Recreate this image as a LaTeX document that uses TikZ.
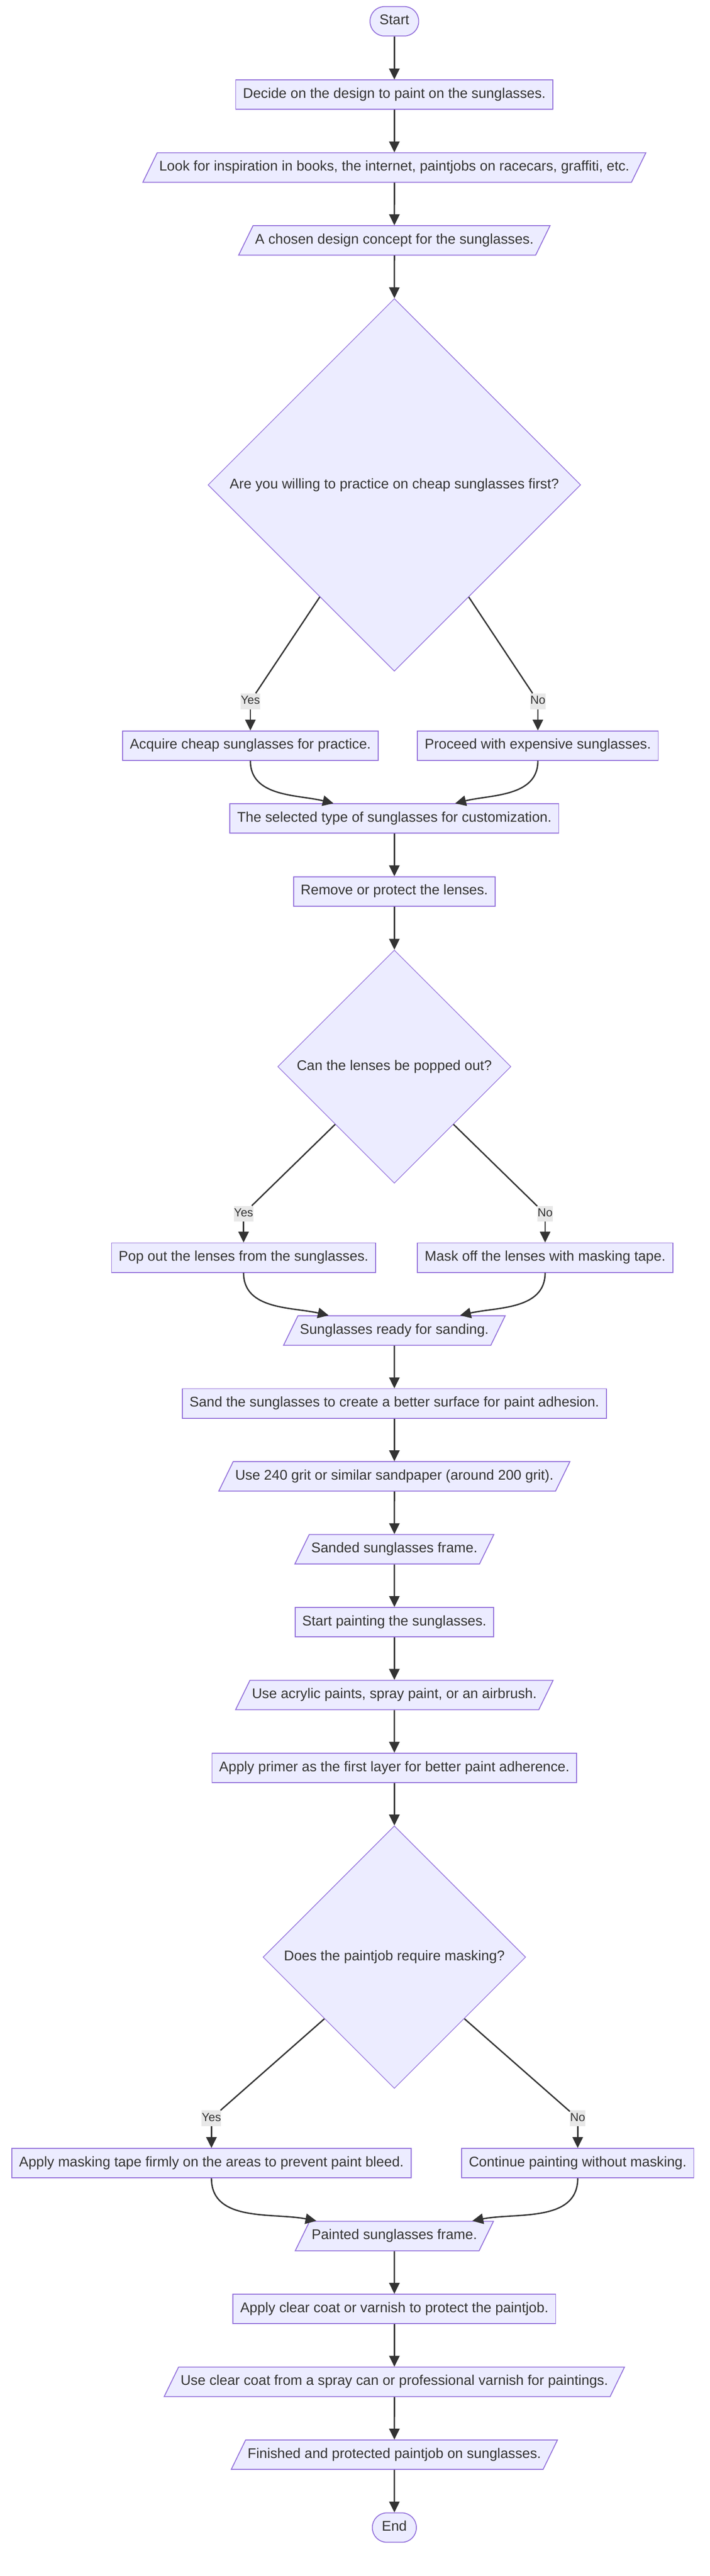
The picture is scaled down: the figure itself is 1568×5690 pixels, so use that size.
\documentclass[tikz,border=0pt]{standalone}
\usepackage{fontspec}
\setmainfont{Liberation Sans}
\usepackage{tikz}
\usetikzlibrary{positioning,shapes.geometric,arrows.meta}
\definecolor{nodefill}{HTML}{ECECFF}
\definecolor{nodeline}{HTML}{9370DB}
\definecolor{ink}{HTML}{333333}
\definecolor{lblfill}{HTML}{E8E8E8}

\begin{document}
\begin{tikzpicture}[x=1pt,y=1pt,node distance=161pt,on grid,
    >={Triangle[length=24pt,width=23pt]},
    every node/.style={font=\fontsize{31}{37}\selectfont,text=ink},
    every edge/.style={draw=ink,line width=3pt},
    box/.style={rectangle,draw=nodeline,fill=nodefill,line width=2pt,text height=22pt,text depth=7pt,inner xsep=16pt,inner ysep=18pt},
    io/.style={trapezium,trapezium left angle=64,trapezium right angle=116,draw=nodeline,fill=nodefill,line width=2pt,text height=22pt,text depth=7pt,inner xsep=4.5pt,inner ysep=18pt},
    term/.style={box,rounded corners=32pt,inner xsep=21pt},
    ask/.style={diamond,aspect=1,draw=nodeline,fill=nodefill,line width=1.5pt,inner sep=0pt},
    lbl/.style={fill=lblfill,font=\fontsize{26}{30}\selectfont,text height=19pt,text depth=6pt,inner xsep=0.5pt,inner ysep=5pt}]
    \useasboundingbox (0,0) rectangle (1568,-5690);
    \node[term] (start) at (871,-47) {Start};
    \node[box] (decide) [below = 162pt of start] {Decide on the design to paint on the sunglasses.};
    \node[io] (look) [below = of decide] {Look for inspiration in books, the internet, paintjobs on racecars, graffiti, etc.};
    \node[io] (chosen) [below = of look] {A chosen design concept for the sunglasses.};
    \node[ask,minimum size=823pt] (willing) [below = 540pt of chosen] {Are you willing to practice on cheap sunglasses first?};
    \node[box] (cheap) [below left = 576pt and 318pt of willing] {Acquire cheap sunglasses for practice.};
    \node[box] (pricey) [right = 635pt of cheap] {Proceed with expensive sunglasses.};
    \node[lbl] (yes1) [above = 98pt of cheap] {Yes};
    \node[lbl] (no1) [above = 98pt of pricey] {No};
    \node[box] (selected) [below right = 161pt and 318pt of cheap] {The selected type of sunglasses for customization.};
    \node[box] (lenses) [below = of selected] {Remove or protect the lenses.};
    \node[ask,minimum size=515pt] (popq) [below = 387pt of lenses] {Can the lenses be popped out?};
    \node[box] (popout) [below left = 422pt and 333pt of popq] {Pop out the lenses from the sunglasses.};
    \node[box] (tape) [right = 666pt of popout] {Mask off the lenses with masking tape.};
    \node[lbl] (yes2) [above = 97pt of popout] {Yes};
    \node[lbl] (no2) [above = 97pt of tape] {No};
    \node[io] (ready) [below right = 161pt and 333pt of popout] {Sunglasses ready for sanding.};
    \node[box] (sand) [below = of ready] {Sand the sunglasses to create a better surface for paint adhesion.};
    \node[io] (grit) [below = of sand] {Use 240 grit or similar sandpaper (around 200 grit).};
    \node[io] (sanded) [below = of grit] {Sanded sunglasses frame.};
    \node[box] (paint) [below = of sanded] {Start painting the sunglasses.};
    \node[io] (paints) [below = of paint] {Use acrylic paints, spray paint, or an airbrush.};
    \node[box] (primer) [below = of paints] {Apply primer as the first layer for better paint adherence.};
    \node[ask,minimum size=580pt] (maskq) [below = 418pt of primer] {Does the paintjob require masking?};
    \node[box] (masking) [below left = 455pt and 404pt of maskq] {Apply masking tape firmly on the areas to prevent paint bleed.};
    \node[box] (nomask) [right = 809pt of masking] {Continue painting without masking.};
    \node[lbl] (yes3) [above = 99pt of masking] {Yes};
    \node[lbl] (no3) [above = 99pt of nomask] {No};
    \node[io] (painted) [below right = 161pt and 404pt of masking] {Painted sunglasses frame.};
    \node[box] (coat) [below = of painted] {Apply clear coat or varnish to protect the paintjob.};
    \node[io] (spray) [below = of coat] {Use clear coat from a spray can or professional varnish for paintings.};
    \node[io] (finished) [below = of spray] {Finished and protected paintjob on sunglasses.};
    \node[term] (end) [below = of finished] {End};
    \path
    (willing) edge (yes1)
    (willing) edge (no1)
    (popq) edge (yes2)
    (popq) edge (no2)
    (maskq) edge (yes3)
    (maskq) edge (no3)
    ;
    \path[->]
    (start) edge (decide)
    (decide) edge (look)
    (look) edge (chosen)
    (chosen) edge (willing)
    (yes1) edge (cheap)
    (no1) edge (pricey)
    (cheap) edge [out=-90,in=166] (selected)
    (pricey) edge [out=-90,in=14] (selected)
    (selected) edge (lenses)
    (lenses) edge (popq)
    (yes2) edge (popout)
    (no2) edge (tape)
    (popout) edge [out=-90,in=167] (ready)
    (tape) edge [out=-90,in=13] (ready)
    (ready) edge (sand)
    (sand) edge (grit)
    (grit) edge (sanded)
    (sanded) edge (paint)
    (paint) edge (paints)
    (paints) edge (primer)
    (primer) edge (maskq)
    (yes3) edge (masking)
    (no3) edge (nomask)
    (masking) edge [out=-90,in=169] (painted)
    (nomask) edge [out=-90,in=11] (painted)
    (painted) edge (coat)
    (coat) edge (spray)
    (spray) edge (finished)
    (finished) edge (end)
    ;
\end{tikzpicture}
\end{document}
